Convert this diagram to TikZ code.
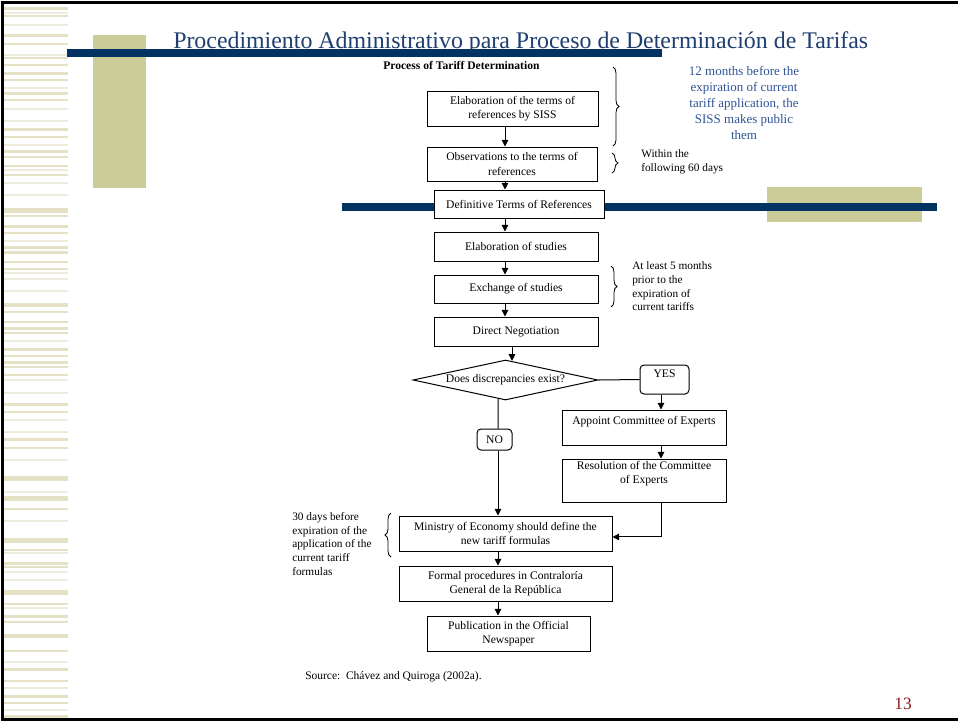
\documentclass[tikz,border=0pt]{standalone}
\usepackage{fontspec}
\setmainfont{Liberation Serif}
\usetikzlibrary{shapes.geometric,decorations.pathreplacing,arrows.meta}
\definecolor{navy}{RGB}{3,51,99}
\definecolor{olive}{RGB}{204,204,153}
\definecolor{stripe}{RGB}{228,225,196}
\definecolor{stripel}{RGB}{238,236,220}
\definecolor{titleblue}{RGB}{31,63,112}
\definecolor{noteblue}{RGB}{47,84,150}
\definecolor{pagered}{RGB}{140,28,28}
\begin{document}
\begin{tikzpicture}[x=0.75pt,y=-0.75pt,
  box/.style={draw=black,line width=0.75pt,fill=white,inner sep=0pt,align=center,
    font=\fontsize{8.7}{10.9}\selectfont},
  lbl/.style={inner sep=0pt,align=left,font=\fontsize{8.5}{10.2}\selectfont},
  arr/.style={line width=0.75pt,-{Triangle[length=5pt,width=5pt]}},
  ln/.style={line width=0.75pt},
  brc/.style={line width=0.6pt,decorate,decoration={brace,amplitude=4.5pt}},
  bar/.style={fill=navy},
  blk/.style={fill=olive}
]
\useasboundingbox (0,0) rectangle (958,722);
\fill[white] (0,0) rectangle (958,722);

% left striped strip
\foreach \y/\t/\c in {8/3/stripe,13/1.5/stripel,16/1.5/stripe,25/1.5/stripel,35/3/stripe,44/1.5/stripe,55/1.5/stripel,58/1.5/stripe,65/1.5/stripe,73/3/stripe,80/1.5/stripe,88/1.5/stripel,93/3/stripe,100/1.5/stripe,109/1.5/stripel,121/1.5/stripel,129/3/stripe,137/1.5/stripe,145/1.5/stripel,151/3/stripe,157/1.5/stripe,166/1.5/stripe,170/1.5/stripel,175/1.5/stripe,183/1.5/stripel,195/1.5/stripel,209/3/stripe,212/1.5/stripe,216/1.5/stripe,226/3/stripe,233/1.5/stripe,241/1.5/stripel,247/3/stripe,252/3/stripe,262/1.5/stripe,269/1.5/stripe,273/1.5/stripel,279/1.5/stripel,291/1.5/stripel,304/3/stripe,306/1.5/stripe,312/1.5/stripe,322/1.5/stripe,328/3/stripe,333/1.5/stripe,341/1.5/stripel,349/3/stripe,356/1.5/stripe,362/3/stripe,367/1.5/stripe,375/1.5/stripe,380/1.5/stripel,393/1.5/stripel,404/3/stripe,412/1.5/stripe,420/1.5/stripel,432/1.5/stripel,439/3/stripe,448/1.5/stripe,460/1.5/stripel,477/3/stripe,480/1.5/stripe,492/1.5/stripel,497/3/stripe,500/1.5/stripe,509/1.5/stripe,521/1.5/stripel,539/3/stripe,542/1.5/stripe,550/1.5/stripe,553/1.5/stripel,563/3/stripe,567/1.5/stripe,572/1.5/stripel,580/1.5/stripel,591/3/stripe,594/1.5/stripe,604/1.5/stripe,608/1.5/stripel,616/3/stripe,622/1.5/stripe,635/3/stripe,637/1.5/stripe,651/1.5/stripe,662/1.5/stripel,669/3/stripe,681/1.5/stripe,688/1.5/stripel,696/3/stripe,703/1.5/stripe,710/1.5/stripel,716/3/stripe}
  \fill[\c] (3,\y-\t/2) rectangle (68,\y+\t/2);

% frame
\draw[line width=2.2pt] (958,2.5) -- (2.5,2.5) -- (2.5,719.5) -- (958,719.5);

% decorative blocks and title
\fill[blk] (93,35) rectangle (146,188);
\fill[blk] (767,187) rectangle (922,222);
\node[anchor=base west,inner sep=0pt,text=titleblue,font=\fontsize{17.9}{20}\selectfont] (title) at (173,48)
  {Procedimiento Administrativo para Proceso de Determinación de Tarifas};
\fill[bar] (67,49) rectangle (662,57);
\fill[bar] (342,203) rectangle (937,211);

% subtitle
\node[anchor=west,inner sep=0pt,font=\bfseries\fontsize{8.7}{10}\selectfont] (sub) at (383,65) {Process of Tariff Determination};

% boxes
\node[box,minimum width=128.25pt,minimum height=26.25pt] (b1) at (512.5,108.5) {Elaboration of the terms of\\references by SISS};
\node[box,minimum width=127.5pt,minimum height=25.5pt] (b2) at (512,164) {Observations to the terms of\\references};
\node[box,minimum width=127.5pt,minimum height=21pt] (b3) at (519,204) {Definitive Terms of References};
\node[box,minimum width=123pt,minimum height=21.75pt] (b4) at (516,246.5) {Elaboration of studies};
\node[box,minimum width=123pt,minimum height=21pt] (b5) at (516,289) {Exchange of studies};
\node[box,minimum width=123pt,minimum height=21.75pt] (b6) at (516,331.5) {Direct Negotiation};
\node[box,diamond,shape aspect=4.6,minimum width=138.75pt,minimum height=30pt] (dia) at (505.5,380) {Does discrepancies exist?};
\node[box,rounded corners=3pt,minimum width=36.75pt,minimum height=21.75pt] (yes) at (664.5,379.5) {YES\\[-2pt]\mbox{}};
\node[box,minimum width=123pt,minimum height=26.25pt] (app) at (644,427.5) {Appoint Committee of Experts\\\mbox{}};
\node[box,rounded corners=3pt,minimum width=26.25pt,minimum height=15.75pt] (no) at (494.5,439.5) {NO};
\node[box,minimum width=123pt,minimum height=32.25pt] (res) at (644,480.5) {Resolution of the Committee\\of Experts\\[1pt]\mbox{}};
\node[box,minimum width=159.75pt,minimum height=26.25pt] (min) at (505.5,533.5) {Ministry of Economy should define the\\new tariff formulas};
\node[box,minimum width=159.75pt,minimum height=26.25pt] (form) at (505.5,583.5) {Formal procedures in Contraloría\\General de la República};
\node[box,minimum width=122.25pt,minimum height=26.25pt] (pub) at (508.5,633.5) {Publication in the Official\\Newspaper};

% connector x positions
\coordinate (xa) at (505,0);
\coordinate (xb) at (512,0);
\coordinate (xc) at (661,0);
\coordinate (xd) at (498,0);

\draw[arr] (b1.south -| xa) -- (b2.north -| xa);
\draw[arr] (b2.south -| xa) -- (b3.north -| xa);
\draw[arr] (b3.south -| xa) -- (b4.north -| xa);
\draw[arr] (b4.south -| xa) -- (b5.north -| xa);
\draw[arr] (b5.south -| xa) -- (b6.north -| xa);
\draw[arr] (b6.south -| xb) -- ([yshift=-1pt]dia.north -| xb);
\draw[ln] (dia.east) -- (yes.west);
\draw[arr] (yes.south -| xc) -- (app.north -| xc);
\draw[arr] (app.south -| xc) -- (res.north -| xc);
\draw[arr] (res.south -| xc) |- ([yshift=-2.6pt]min.east);
\draw[ln] ([xshift=-5.6pt,yshift=1.2pt]dia.south) -- (no.north -| xd);
\draw[arr] (no.south -| xd) -- (min.north -| xd);
\draw[arr] (min.south -| xd) -- (form.north -| xd);
\draw[arr] (form.south -| xd) -- (pub.north -| xd);

% braces
\coordinate (br1t) at (613,67);  \coordinate (br1b) at (613,146);
\coordinate (br2t) at (612,153); \coordinate (br2b) at (612,173);
\coordinate (br3t) at (611,266); \coordinate (br3b) at (611,307);
\coordinate (br4t) at (391,513); \coordinate (br4b) at (391,557);
\draw[brc] (br1t) -- (br1b);
\draw[brc] (br2t) -- (br2b);
\draw[brc] (br3t) -- (br3b);
\draw[brc] (br4b) -- (br4t);

% notes
\node[inner sep=0pt,align=center,text=noteblue,font=\fontsize{9.75}{12}\selectfont] (n1) at (744,103)
  {12 months before the\\expiration of current\\tariff application, the\\SISS makes public\\them};
\node[lbl,anchor=west] (n2) at (641,161.5) {Within the\\following 60 days};
\node[lbl,anchor=west] (n3) at (632,286.5) {At least 5 months\\prior to the\\expiration of\\current tariffs};
\node[lbl,anchor=west] (n4) at (292,544) {30 days before\\expiration of the\\application of the\\current tariff\\formulas};
\node[lbl,anchor=west,font=\fontsize{8.6}{10}\selectfont] (src) at (305,677) {Source:\ \ Chávez and Quiroga (2002a).};
\node[inner sep=0pt,text=pagered,font=\fontsize{13}{14}\selectfont] (pg) at (903,704) {13};
\end{tikzpicture}
\end{document}
